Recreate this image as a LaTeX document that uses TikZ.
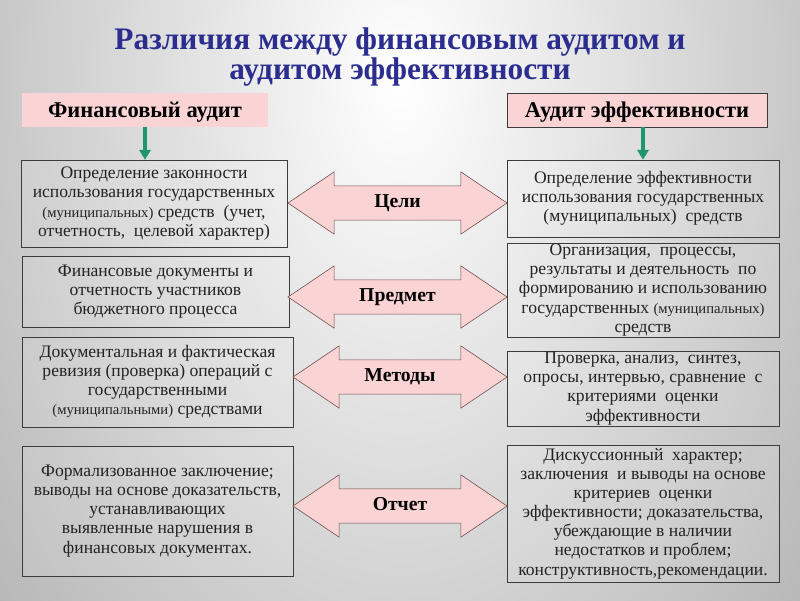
\documentclass[tikz,border=0pt]{standalone}
\usepackage{fontspec}
\setmainfont{Liberation Serif}
\usetikzlibrary{shapes.arrows,arrows.meta}
\definecolor{titleblue}{RGB}{43,46,143}
\definecolor{rosy}{RGB}{250,212,212}
\definecolor{boxline}{RGB}{60,60,60}
\definecolor{arrowline}{RGB}{110,75,75}
\definecolor{downgreen}{RGB}{30,150,110}
\definecolor{bodytext}{RGB}{35,35,35}
\newcommand{\minor}[1]{{\fontsize{10.4}{13.5}\selectfont #1}}

\begin{document}
\begin{tikzpicture}[x=0.025cm, y=-0.025cm]
    \tikzset{%
      titletext/.style={text=titleblue, align=center, inner sep=0pt,
        font=\bfseries\fontsize{22.3}{18.5}\selectfont},
      topbox/.style={fill=rosy, inner sep=0pt, minimum height=0.85cm,
        text height=11pt, text depth=0pt,
        font=\bfseries\fontsize{16}{18}\selectfont},
      cellbox/.style={draw=boxline, fill=white, fill opacity=0.1,
        text opacity=1, text=bodytext, align=center, inner sep=0pt,
        font=\fontsize{12.5}{13.6}\selectfont},
      linkarrow/.style={double arrow, draw=arrowline, fill=rosy,
        double arrow head extend=0.35cm, double arrow tip angle=68,
        text height=8pt, text depth=1pt, inner xsep=0pt, inner ysep=7.5pt,
        font=\bfseries\fontsize{14}{16}\selectfont},
      downarrow/.style={downgreen, line width=2.5pt,
        -{Triangle[width=8pt,length=7pt]}},
    }
    \useasboundingbox (0,0) rectangle (800,600);
    % background
    \clip (0,0) rectangle (800,600);
    \shade[inner color=white, outer color=black!54] (400,80) ellipse (25cm and 40cm);

    \node[titletext] (title) at (400,57)
      {Различия между финансовым аудитом и\\аудитом эффективности};

    % column heads
    \node[topbox, minimum width=6.15cm] (fin) at (145,110) {Финансовый аудит};
    \node[topbox, draw=boxline, minimum width=6.5cm] (eff) at (637,110)
      {Аудит эффективности};

    % left column
    \node[cellbox, minimum width=6.65cm, minimum height=2.175cm] (l1) at (154,203.5)
      {Определение законности\\использования государственных\\
       \minor{(муниципальных)} средств \ (учет,\\отчетность, \ целевой характер)};
    \node[cellbox, minimum width=6.675cm, minimum height=1.775cm] (l2) at (155.5,291.5)
      {Финансовые документы и\\отчетность участников\\бюджетного процесса};
    \node[cellbox, minimum width=6.775cm, minimum height=2.25cm] (l3) at (157.5,382)
      {Документальная и фактическая\\ревизия (проверка) операций с\\
       государственными\\\minor{(муниципальными)} средствами};
    \node[cellbox, minimum width=6.775cm, minimum height=3.25cm] (l4) at (157.5,511)
      {Формализованное заключение;\\выводы на основе доказательств,\\
       устанавливающих\\выявленные нарушения в\\финансовых документах.};

    % right column
    \node[cellbox, minimum width=6.8cm, minimum height=1.925cm] (r1) at (643,198.5)
      {Определение эффективности\\использования государственных\\
       (муниципальных) \ средств};
    \node[cellbox, minimum width=6.8cm, minimum height=2.35cm] (r2) at (643,290)
      {Организация, \ процессы,\\результаты и деятельность \ по\\
       формированию и использованию\\государственных \minor{(муниципальных)}\\средств};
    \node[cellbox, minimum width=6.8cm, minimum height=1.875cm] (r3) at (643,388.5)
      {Проверка, анализ, \ синтез,\\опросы, интервью, сравнение \ с\\
       критериями \ оценки\\эффективности};
    \node[cellbox, minimum width=6.8cm, minimum height=3.425cm] (r4) at (643,513.5)
      {Дискуссионный \ характер;\\заключения \ и выводы на основе\\
       критериев \ оценки\\эффективности; доказательства,\\убеждающие в наличии\\
       недостатков и проблем;\\конструктивность,рекомендации.};

    \draw[downarrow] (fin.south) -- (fin.south |- l1.north);
    \draw[downarrow] (r1.north |- eff.south) -- (r1.north);

    % links between the columns
    \node[linkarrow, minimum height=5.475cm] (goals) at (397.5,203) {Цели};
    \node[linkarrow, minimum height=5.475cm] (subject) at (397.5,297) {Предмет};
    \node[linkarrow, minimum height=5.35cm] (methods) at (400,377) {Методы};
    \node[linkarrow, minimum height=5.35cm] (report) at (400,506) {Отчет};
\end{tikzpicture}
\end{document}
